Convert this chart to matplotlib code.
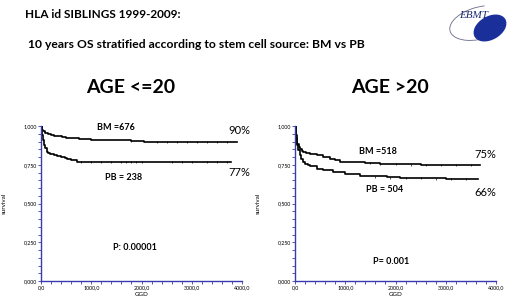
import numpy as np
import matplotlib.pyplot as plt
from matplotlib.ticker import MultipleLocator, FuncFormatter
from matplotlib.patches import Ellipse, Arc

# Kaplan-Meier step points (days, survival)
left_bm_t = [0, 10, 25, 45, 70, 100, 140, 190, 250, 330, 420, 500, 620, 750, 850, 1000,
             1300, 1600, 1800, 2050, 2400, 3000, 3900]
left_bm_s = [1.0, 0.985, 0.975, 0.965, 0.958, 0.952, 0.946, 0.941, 0.937, 0.933, 0.929, 0.925,
             0.922, 0.918, 0.913, 0.912, 0.910, 0.908, 0.905, 0.898, 0.897, 0.896, 0.896]
left_pb_t = [0, 10, 20, 35, 50, 67, 85, 110, 140, 180, 250, 320, 400, 470, 520, 600, 713,
             900, 1500, 2500, 3780]
left_pb_s = [1.0, 0.97, 0.94, 0.91, 0.89, 0.875, 0.855, 0.835, 0.825, 0.818, 0.81, 0.805,
             0.80, 0.795, 0.79, 0.78, 0.77, 0.768, 0.767, 0.766, 0.766]
right_bm_t = [0, 10, 20, 35, 46, 70, 100, 130, 166, 220, 300, 431, 550, 696, 800, 895,
              1100, 1400, 1690, 1824, 2500, 3680]
right_bm_s = [1.0, 0.97, 0.94, 0.91, 0.886, 0.865, 0.85, 0.84, 0.83, 0.825, 0.82, 0.81,
              0.80, 0.79, 0.78, 0.77, 0.765, 0.76, 0.757, 0.752, 0.751, 0.751]
right_pb_t = [0, 10, 20, 40, 66, 90, 120, 160, 199, 250, 300, 431, 550, 762, 1000, 1293,
              1500, 1824, 2089, 3000, 3647]
right_pb_s = [1.0, 0.96, 0.92, 0.88, 0.843, 0.81, 0.79, 0.77, 0.757, 0.748, 0.74, 0.725,
              0.715, 0.703, 0.69, 0.68, 0.675, 0.67, 0.662, 0.661, 0.661]

# censoring marks (days)
left_bm_cens = [1800, 2300, 2500, 2700, 2900, 3100, 3300, 3500, 3700]
left_pb_cens = [800, 1000, 1200, 1400, 1600, 1700, 1800, 1900, 2000, 2600, 2800, 3000, 3300, 3500, 3700]
right_bm_cens = [1500, 1700, 2000, 2300, 2600, 2900, 3200, 3500]
right_pb_cens = [1600, 1900, 2200, 2500, 2800, 3100, 3400]

titles = ['AGE <=20', 'AGE >20']
bm_labels = ['BM =676', 'BM =518']
pb_labels = ['PB = 238', 'PB = 504']
pct_bm = ['90%', '75%']
pct_pb = ['77%', '66%']
pvals = ['P: 0.00001', 'P= 0.001']

plt.rcParams['font.family'] = ['Lato', 'DejaVu Sans']

fig = plt.figure(figsize=(5.2, 3.02), dpi=100)
W, H = 520, 302

def px(x, y):
    return x / W, 1 - y / H

fig.text(*px(25, 15), 'HLA id SIBLINGS 1999-2009:', fontsize=8.5, fontweight='bold', va='center')
fig.text(*px(28, 45), '10 years OS stratified according to stem cell source: BM vs PB',
         fontsize=8.7, fontweight='bold', va='center')

# logo
lax = fig.add_axes([440 / W, 1 - 45 / H, 70 / W, 40 / H])
lax.set_xlim(0, 70)
lax.set_ylim(0, 40)
lax.axis('off')
lax.add_patch(Arc((40, 22), 62, 32, angle=15, theta1=60, theta2=250, color='#6a6a8a', lw=0.6))
lax.add_patch(Ellipse((50, 17), 34, 22, angle=30, color='#1a2f9a'))
lax.text(34, 29, 'EBMT', fontsize=8, style='italic', family='Liberation Serif', color='#1a2a70',
         ha='center', va='center')

fmt_y = FuncFormatter(lambda v, p: f'{v:.3f}'.replace('.', ','))
fmt_x = FuncFormatter(lambda v, p: f'{v:.1f}'.replace('.', ','))

panels = [
    (left_bm_t, left_bm_s, left_pb_t, left_pb_s, left_bm_cens, left_pb_cens, 41),
    (right_bm_t, right_bm_s, right_pb_t, right_pb_s, right_bm_cens, right_pb_cens, 295),
]
ann = [
    dict(bm=(116, 127), pb=(124, 177), pbm=(239, 130), ppb=(239, 172), p=(135, 248), title=(131, 88)),
    dict(bm=(378, 152), pb=(385, 190), pbm=(485, 154), ppb=(485, 193), p=(391, 262), title=(390, 88)),
]

for i, (bt, bs, pt, ps, bc, pc, x0) in enumerate(panels):
    ax = fig.add_axes([x0 / W, 21 / H, 201 / W, 155 / H])
    ax.step(bt, bs, where='post', color='black', lw=1.2)
    ax.step(pt, ps, where='post', color='black', lw=1.2)
    ax.plot(bc, np.interp(bc, bt, bs), '|', color='black', ms=2, mew=0.5)
    ax.plot(pc, np.interp(pc, pt, ps), '|', color='black', ms=2, mew=0.5)
    ax.set_xlim(0, 4000)
    ax.set_ylim(0, 1.0)
    for s in ['top', 'right']:
        ax.spines[s].set_visible(False)
    ax.spines['left'].set_color('#3a3ab0')
    ax.spines['bottom'].set_color('#3a3ab0')
    ax.spines['left'].set_linewidth(1.0)
    ax.spines['bottom'].set_linewidth(1.0)
    ax.xaxis.set_major_locator(MultipleLocator(1000))
    ax.xaxis.set_minor_locator(MultipleLocator(200))
    ax.yaxis.set_major_locator(MultipleLocator(0.25))
    ax.yaxis.set_minor_locator(MultipleLocator(0.05))
    ax.yaxis.set_major_formatter(fmt_y)
    ax.xaxis.set_major_formatter(fmt_x)
    ax.tick_params(which='both', length=2, width=0.6, color='#3a3ab0', labelsize=3.8, pad=1)
    ax.set_xlabel('GGD', fontsize=4.5, labelpad=1)
    ax.set_ylabel('survival', fontsize=4.5, labelpad=12)
    a = ann[i]
    fig.text(*px(*a['title']), titles[i], fontsize=14, fontweight='bold', ha='center', va='center')
    fig.text(*px(*a['bm']), bm_labels[i], fontsize=6.5, fontweight='bold', ha='center', va='center')
    fig.text(*px(*a['pb']), pb_labels[i], fontsize=6.5, fontweight='bold', ha='center', va='center')
    fig.text(*px(*a['pbm']), pct_bm[i], fontsize=8, ha='center', va='center')
    fig.text(*px(*a['ppb']), pct_pb[i], fontsize=8, ha='center', va='center')
    fig.text(*px(*a['p']), pvals[i], fontsize=6.5, fontweight='bold', ha='center', va='center')

fig.savefig('out.png', dpi=100)
